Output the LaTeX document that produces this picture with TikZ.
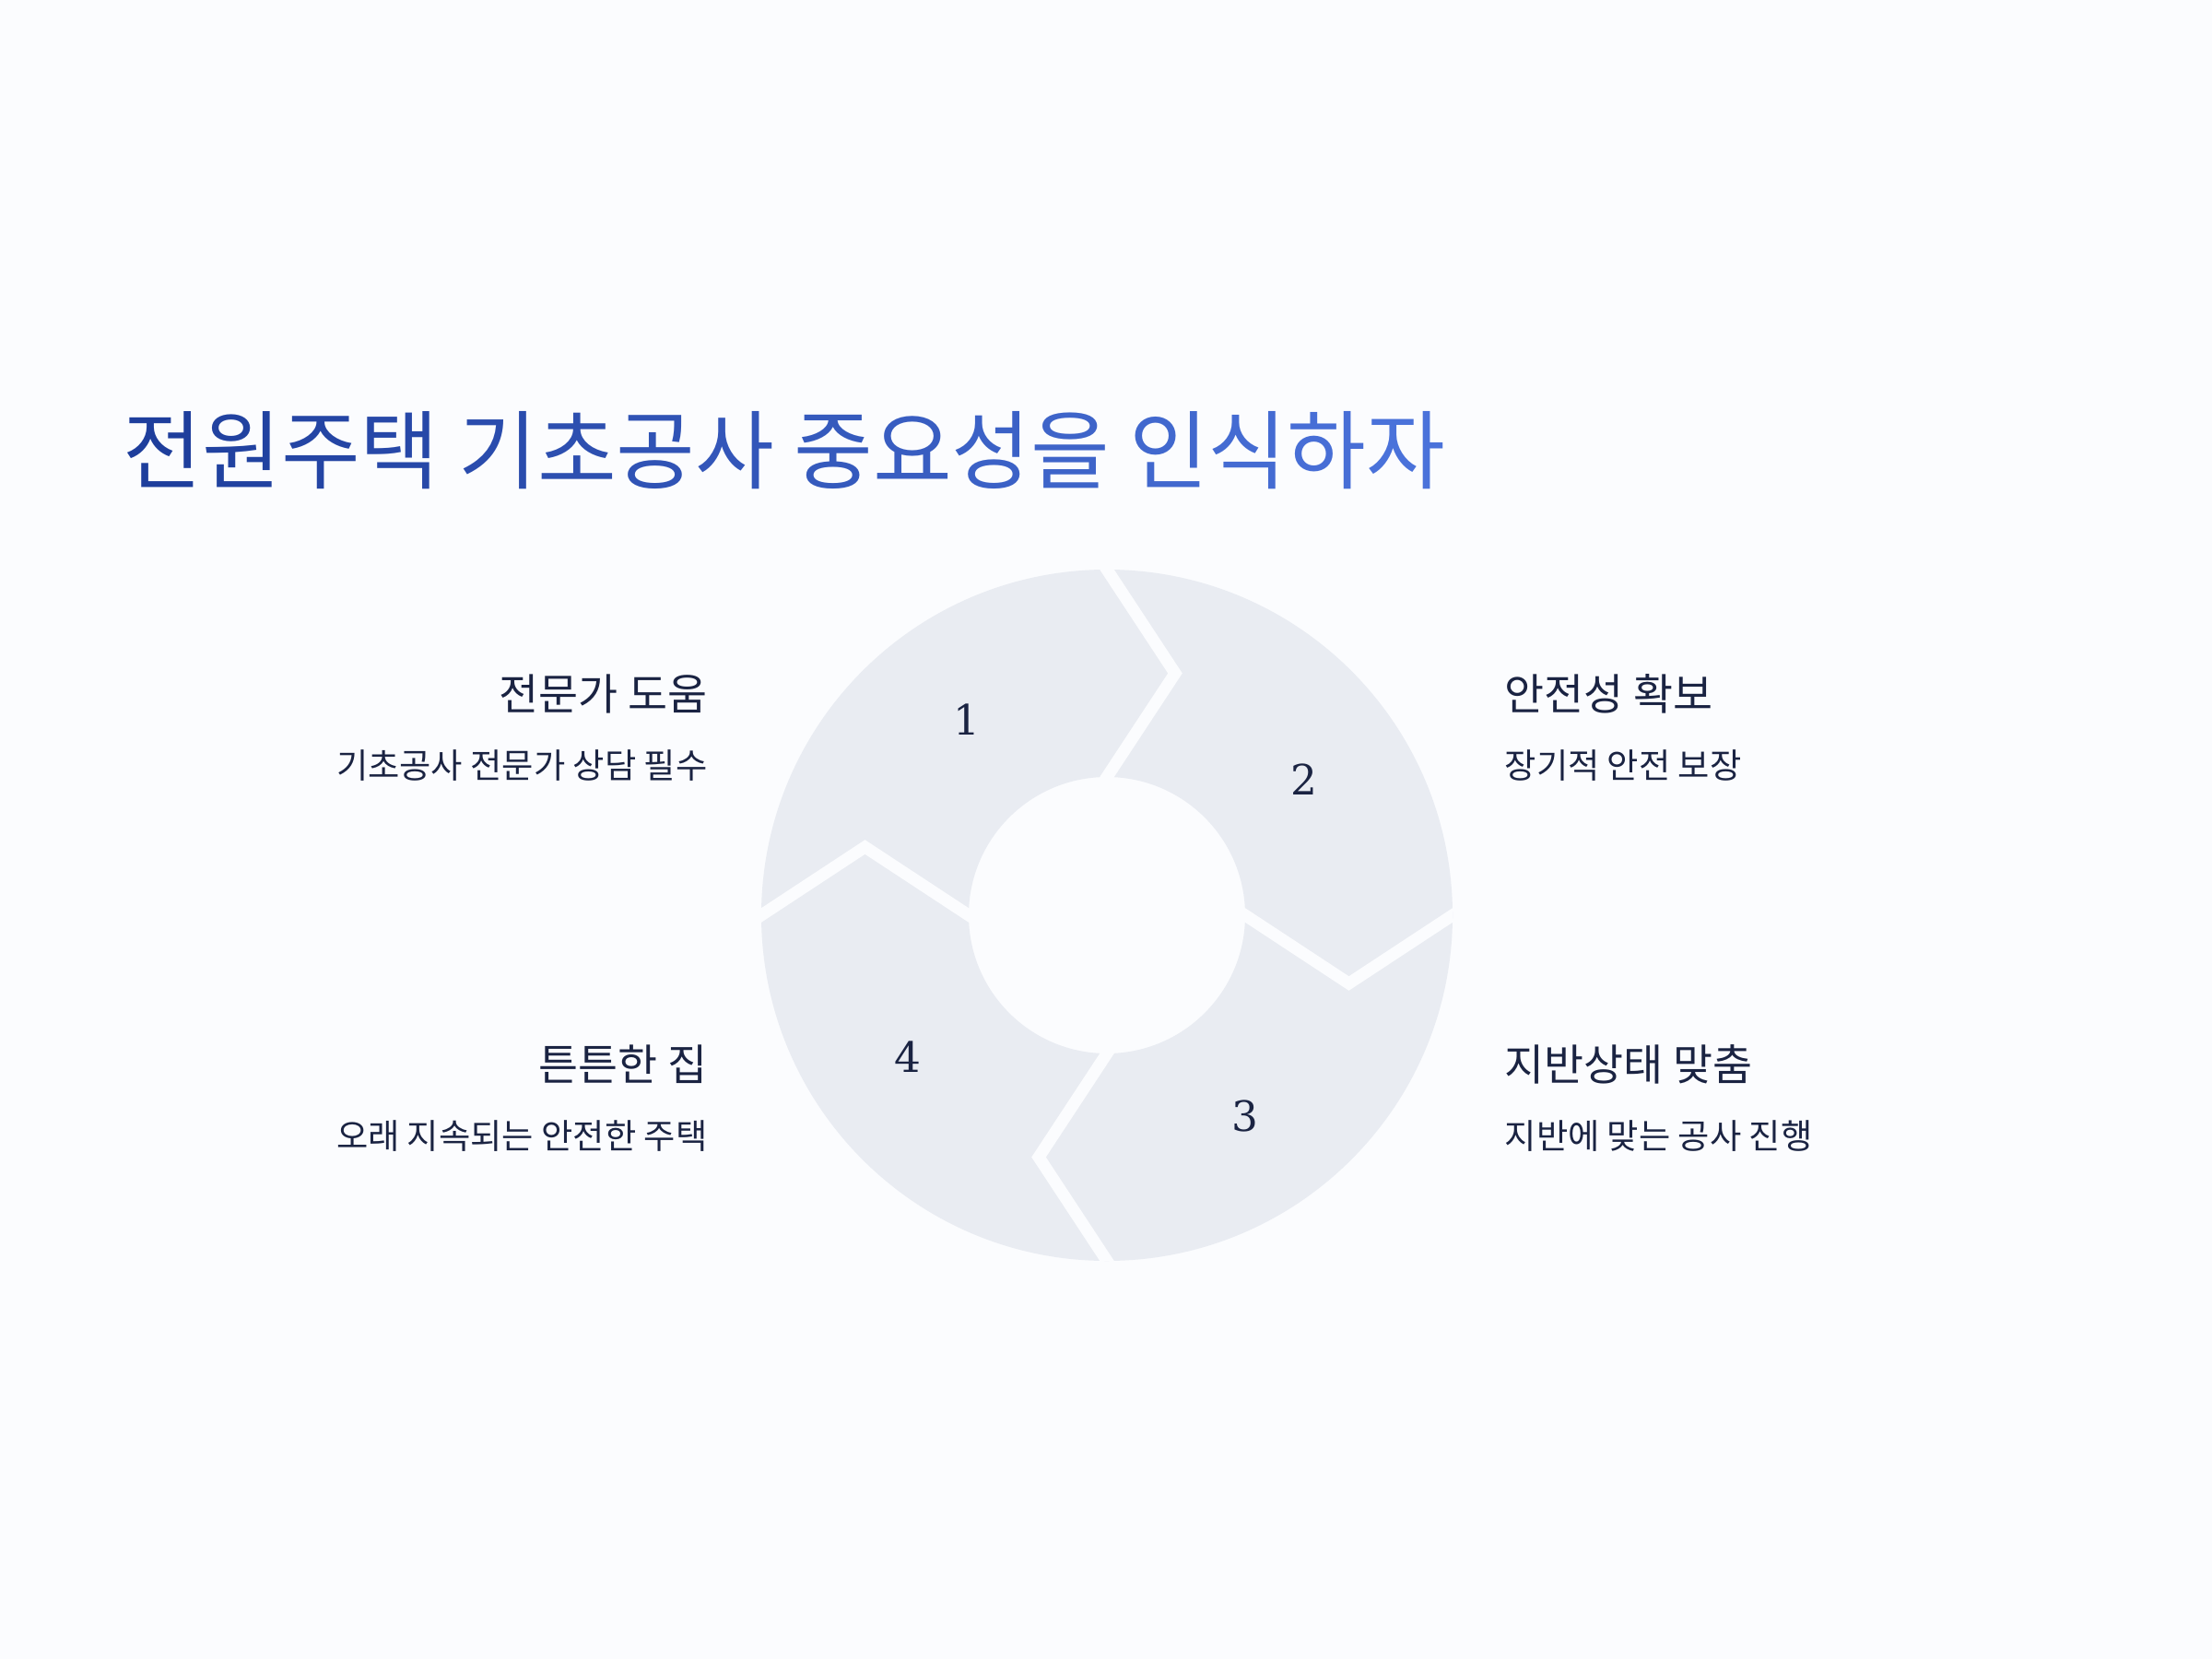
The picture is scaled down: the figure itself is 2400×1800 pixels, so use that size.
\documentclass[tikz,border=0pt]{standalone}
\usepackage{fontspec}
\usetikzlibrary{calc}
\newfontfamily\kr{Noto Sans CJK KR}
\newfontfamily\digitfont{DejaVu Serif}
\definecolor{bg}{HTML}{FBFCFE}
\definecolor{ringgray}{HTML}{E9ECF2}
\definecolor{ink}{HTML}{1A2342}
\definecolor{tA}{HTML}{1E3E9C}
\definecolor{tB}{HTML}{4A72DA}
\begin{document}
\begin{tikzpicture}[x=0.01cm,y=-0.01cm,
  gap/.style={draw=bg,line width=0.13cm,line join=miter},
  num/.style={font=\digitfont\fontsize{12.9}{15}\selectfont,text=ink,inner sep=0},
  head/.style={font=\kr\fontsize{13.3}{16}\selectfont,text=ink,inner sep=0},
  sub/.style={font=\kr\fontsize{10.6}{13}\selectfont,text=ink,inner sep=0},
  titlestyle/.style={font=\kr\fontsize{26.5}{30}\selectfont,inner sep=0}]
\fill[bg] (0,0) rectangle (2400,1800);
\coordinate (c) at (1201,993);
% ring
\fill[ringgray,even odd rule] (c) circle[radius=375] (c) circle[radius=150];
\begin{scope}
\clip (c) circle[radius=375];
\draw[gap] ($(c)+(-22,-409)$) -- ($(c)+(0,-375)$) -- ($(c)+(74,-262.5)$) -- ($(c)+(0,-150)$) -- ($(c)+(-22,-116)$);
\draw[gap] ($(c)+(409,-22)$) -- ($(c)+(375,0)$) -- ($(c)+(262.5,74)$) -- ($(c)+(150,0)$) -- ($(c)+(116,-22)$);
\draw[gap] ($(c)+(22,409)$) -- ($(c)+(0,375)$) -- ($(c)+(-74,262.5)$) -- ($(c)+(0,150)$) -- ($(c)+(22,116)$);
\draw[gap] ($(c)+(-409,22)$) -- ($(c)+(-375,0)$) -- ($(c)+(-262.5,-74)$) -- ($(c)+(-150,0)$) -- ($(c)+(-116,22)$);
\end{scope}
% numbers
\node[num] (n1) at (1049,781) {1};
\node[num] (n2) at (1415,846) {2};
\node[num] (n3) at (1351,1211) {3};
\node[num] (n4) at (985,1147) {4};
% title
\node[titlestyle,anchor=base west] (title) at (133,523) {\textcolor{tA}{전}\textcolor{tB!7!tA}{원}\textcolor{tB!13!tA}{주}\textcolor{tB!20!tA}{택} \textcolor{tB!27!tA}{기}\textcolor{tB!33!tA}{초}\textcolor{tB!40!tA}{공}\textcolor{tB!47!tA}{사} \textcolor{tB!53!tA}{중}\textcolor{tB!60!tA}{요}\textcolor{tB!67!tA}{성}\textcolor{tB!73!tA}{을} \textcolor{tB!80!tA}{인}\textcolor{tB!87!tA}{식}\textcolor{tB!93!tA}{하}\textcolor{tB}{자}};
% labels
\node[head,anchor=base east] (h1) at (768,770) {전문가 도움};
\node[sub,anchor=base east] (s1) at (768,844) {기초공사 전문가 상담 필수};
\node[head,anchor=base west] (h2) at (1632,770) {안전성 확보};
\node[sub,anchor=base west] (s2) at (1632,844) {장기적 안전 보장};
\node[head,anchor=base west] (h3) at (1632,1172) {지반상태 맞춤};
\node[sub,anchor=base west] (s3) at (1632,1246) {지반에 맞는 공사 진행};
\node[head,anchor=base east] (h4) at (768,1172) {튼튼한 집};
\node[sub,anchor=base east] (s4) at (768,1246) {오래 지속되는 안전한 주택};
\end{tikzpicture}
\end{document}
